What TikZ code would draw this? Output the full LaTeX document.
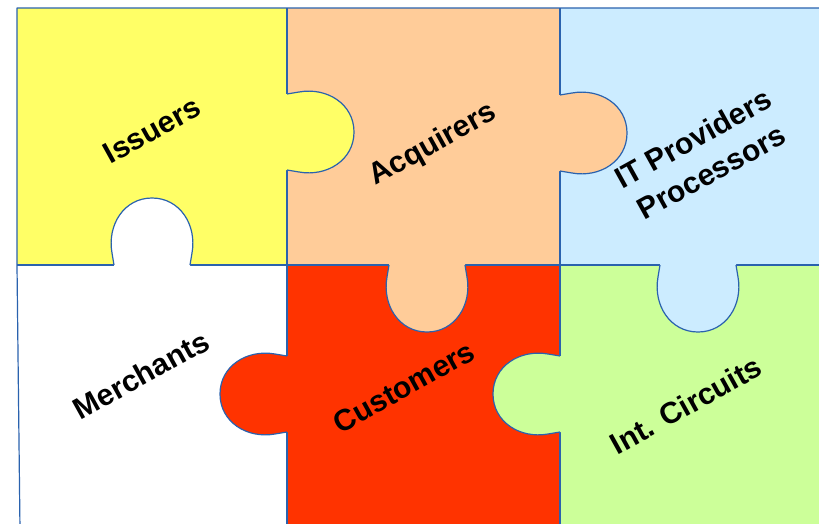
\documentclass[tikz,border=0pt]{standalone}
\usepackage{fontspec}
\setmainfont{Liberation Sans}
\definecolor{pzYellow}{HTML}{FFFF66}
\definecolor{pzPeach}{HTML}{FFCC99}
\definecolor{pzSky}{HTML}{CCECFF}
\definecolor{pzRed}{HTML}{FF3300}
\definecolor{pzGreen}{HTML}{CCFF99}
\definecolor{pzLine}{HTML}{2A62AE}
\tikzset{
  edge/.style={draw=pzLine, line width=1.2pt, line join=round},
  piecetext/.style={font=\bfseries\fontsize{30}{38}\selectfont, rotate=29,
    align=center, inner sep=0pt, text=black},
  % a puzzle tab pointing along +x from the edge at the origin
  pics/knob/.style={code={
    \fill[#1] (-3,-38) -- (0,-38) -- (12,-40)
      .. controls (40,-45) and (67,-28) .. (67,0)
      .. controls (67,28) and (40,45) .. (12,40) -- (0,38) -- (-3,38) -- cycle;
    \draw[edge] (0,-38) -- (12,-40)
      .. controls (40,-45) and (67,-28) .. (67,0)
      .. controls (67,28) and (40,45) .. (12,40) -- (0,38);
  }}
}
\begin{document}
\begin{tikzpicture}[x=1pt, y=-1pt]
\path[use as bounding box] (0,0) rectangle (819,523);
\clip (0,0) rectangle (819,523);

% piece bodies
\fill[pzYellow] (17,8) rectangle (287,265);
\fill[pzPeach]  (287,8) rectangle (560,265);
\fill[pzSky]    (560,8) rectangle (830,265);
\fill[white]    (17,265) -- (287,265) -- (287,530) -- (20,530) -- cycle;
\fill[pzRed]    (287,265) rectangle (560,530);
\fill[pzGreen]  (560,265) rectangle (830,530);

% seams between the pieces
\draw[edge] (830,8) -- (17,8) -- (17,265) -- (20,530);
\draw[edge] (287,8) -- (287,530);
\draw[edge] (560,8) -- (560,530);
\draw[edge] (17,265) -- (830,265);

% tabs
\pic at (287,132) {knob=pzYellow};
\pic at (560,133) {knob=pzPeach};
\pic[rotate=-90] at (427,265) {knob=pzPeach};
\pic[rotate=-90] at (698,265) {knob=pzSky};
\pic[rotate=90] at (152,265) {knob=white};
\pic[rotate=180] at (287,394) {knob=pzRed};
\pic[rotate=180] at (560,394) {knob=pzGreen};

% piece labels
\node[piecetext] (issuers) at (152,130) {Issuers};
\node[piecetext] (acquirers) at (433,145) {Acquirers};
\node[piecetext] (providers) at (702,155) {IT Providers\\Processors};
\node[piecetext] (merchants) at (141,375) {Merchants};
\node[piecetext] (customers) at (404,387) {Customers};
\node[piecetext] (circuits) at (686,405) {Int. Circuits};
\end{tikzpicture}
\end{document}
